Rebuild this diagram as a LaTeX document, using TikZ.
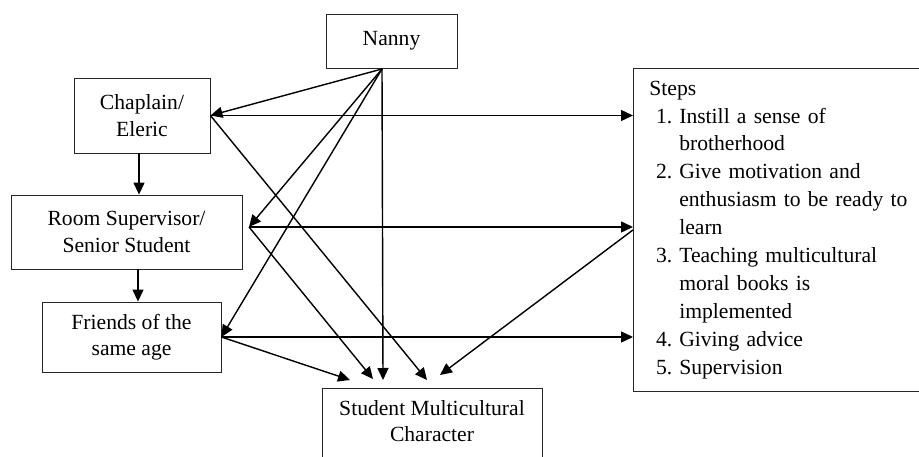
\documentclass[tikz,border=0pt]{standalone}
\usepackage{fontspec}
\setmainfont{Liberation Serif}
\usetikzlibrary{arrows.meta}
\newcommand\stepno[1]{\makebox[13pt][r]{#1}\hspace{4pt}}
\begin{document}
\begin{tikzpicture}[x=0.2mm,y=-0.2mm,
  box/.style={draw=black!85, line width=0.5pt, inner sep=0pt, align=center,
    font=\fontsize{12.3}{15}\selectfont},
  stepsbox/.style={box, align=left, inner xsep=3.2mm, inner ysep=0pt,
    font=\fontsize{12.3}{15.9}\selectfont},
  arr/.style={line width=0.8pt, -{Triangle[length=2.4mm,width=2.2mm]}}]
\useasboundingbox (0,0) rectangle (919,457);
\clip (0,0) rectangle (919,457);
% boxes
\node[box, minimum width=26.2mm, minimum height=10.8mm] (nanny) at (391.5,41) {Nanny};
\node[box, minimum width=27.2mm, minimum height=15mm] (chap) at (142,115.5) {Chaplain/\\Eleric};
\node[box, minimum width=46.2mm, minimum height=14.8mm] (room) at (126.5,232) {Room Supervisor/\\Senior Student};
\node[box, minimum width=35.8mm, minimum height=14mm] (friends) at (131.5,337) {Friends of the\\same age};
\node[box, anchor=north, minimum width=44mm, inner ysep=2.4mm, text depth=15mm] (student) at (432,388) {Student Multicultural\\Character};
\node[stepsbox, anchor=north west, text width=53.6mm, minimum height=64.6mm] (steps) at (633,68) {Steps\\
\stepno{1.}Instill a sense of\\
\stepno{}brotherhood\\
\stepno{2.}Give motivation and\\
\stepno{}enthusiasm to be ready to\\
\stepno{}learn\\
\stepno{3.}Teaching multicultural\\
\stepno{}moral books is\\
\stepno{}implemented\\
\stepno{4.}Giving advice\\
\stepno{5.}Supervision};
% meeting points
\coordinate (nsrc) at (382,69);
\coordinate (roomhub) at (249,227);
\coordinate (in1) at ([shift={(-82,-8)}]student.north);
\coordinate (in2) at ([shift={(-59,-9)}]student.north);
\coordinate (in3) at ([shift={(-49,-8)}]student.north);
\coordinate (in4) at ([shift={(-5,-8)}]student.north);
\coordinate (in5) at ([shift={(8,-13)}]student.north);
% from the nanny
\draw[arr] (nsrc) -- (chap.east);
\draw[arr] (nsrc) -- (roomhub);
\draw[arr] (nsrc) -- (friends.east);
\draw[arr] (nsrc) -- (in3);
% down the left column
\draw[arr] ([xshift=-0.6mm]chap.south) -- ([xshift=-0.6mm]chap.south |- room.north);
\draw[arr] ([xshift=-0.8mm]chap.south |- room.south) -- ([xshift=-0.8mm]chap.south |- friends.north);
% to the steps
\draw[arr] (chap.east) -- (steps.west |- chap.east);
\draw[arr] (roomhub) -- (steps.west |- roomhub);
\draw[arr] (friends.east) -- (steps.west |- friends.east);
% to the character
\draw[arr] (friends.east) -- (in1);
\draw[arr] (roomhub) -- (in2);
\draw[arr] (chap.east) -- (in4);
\draw[arr] (steps.west) -- (in5);
\end{tikzpicture}
\end{document}
